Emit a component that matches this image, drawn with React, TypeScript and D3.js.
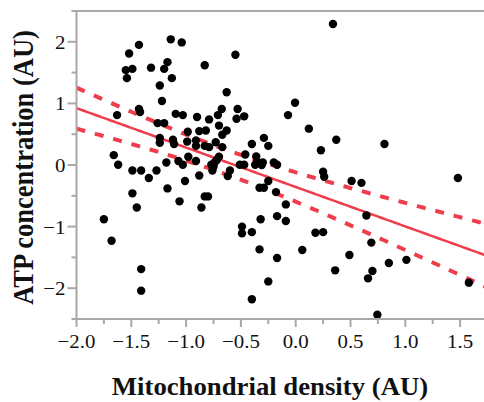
import React from "react";
import * as d3 from "d3";

// Mitochondrial density (x) and ATP concentration (y), AU
const mitoDensity = [
  0.34, -1.14, -1.04, -1.43, -1.52, -0.55, -1.17, -0.83, -1.32, -1.2,
  -1.49, -1.55, -1.54, -1.13, -1.24, -0.63, -1.22, -0.006, -1.43, -1.42,
  -0.675, -0.53, -1.63, -1.095, -1.03, -0.71, -0.9, -0.47, -0.07, -0.54,
  -0.79, -1.26, -1.2, -0.7, 0.12, -0.63, -0.88, -0.82, -0.985, -0.67,
  -0.29, -1.24, 0.37, -1.12, -1.24, -0.99, -0.73, 0.81, -0.4, -1.11,
  -0.25, -0.91, -0.83, -0.79, -0.67, 0.23, -1.66, -0.46, -0.36, -0.98,
  -0.7, -1.07, -0.91, -0.74, -0.3, -0.2, -1.18, -1.62, -1.03, -0.77,
  -0.51, -0.47, -0.37, -0.17, -0.76, -0.6, -1.49, -1.41, -1.27, 0.25,
  1.48, -0.62, -0.88, -1.34, 0.26, -1.01, -0.25, 0.51, 0.6, -0.33,
  -0.29, -1.17, -1.49, -0.18, -0.83, -0.8, -1.06, -0.09, -1.45, -0.86,
  0.645, -0.17, -1.75, -0.32, -0.09, -0.49, -0.49, -0.4, 0.18, 0.25,
  -1.68, 0.69, -0.33, 0.06, 0.49, -0.17, 1.01, 0.85, -1.41, 0.36,
  0.7, 0.66, -0.25, 1.58, -1.41, -0.4, 0.745, -0.91, -0.35, -0.31,
  -0.75, -0.72,
];
const atpConcentration = [
  2.29, 2.04, 1.99, 1.95, 1.81, 1.79, 1.67, 1.62, 1.58, 1.56,
  1.56, 1.54, 1.41, 1.41, 1.29, 1.18, 1.04, 1.01, 0.91, 0.86,
  0.91, 0.91, 0.81, 0.83, 0.81, 0.81, 0.78, 0.79, 0.81, 0.75,
  0.74, 0.68, 0.68, 0.64, 0.59, 0.56, 0.55, 0.56, 0.54, 0.49,
  0.44, 0.44, 0.41, 0.41, 0.36, 0.38, 0.37, 0.34, 0.34, 0.34,
  0.31, 0.31, 0.31, 0.29, 0.29, 0.24, 0.16, 0.17, 0.14, 0.135,
  0.135, 0.065, 0.065, 0.04, 0.04, 0.04, 0.04, 0.005, 0.005, 0.005,
  0.005, 0.005, 0.005, 0.005, -0.09, -0.09, -0.09, -0.09, -0.09, -0.11,
  -0.21, -0.18, -0.17, -0.21, -0.19, -0.26, -0.26, -0.26, -0.29, -0.37,
  -0.37, -0.38, -0.46, -0.44, -0.51, -0.51, -0.59, -0.64, -0.69, -0.69,
  -0.82, -0.83, -0.88, -0.88, -0.91, -1.0, -1.11, -1.09, -1.1, -1.09,
  -1.23, -1.26, -1.37, -1.38, -1.46, -1.51, -1.54, -1.59, -1.69, -1.71,
  -1.72, -1.84, -1.89, -1.91, -2.04, -2.18, -2.43, 0.4, 0.05, 0.0,
  -0.03, 0.08,
];

const xTickValues = [-2.0, -1.5, -1.0, -0.5, 0.0, 0.5, 1.0, 1.5];
const xMinorTickValues = [-1.75, -1.25, -0.75, -0.25, 0.25, 0.75, 1.25];
const yTickValues = [-2, -1, 0, 1, 2];
const yMinorTickValues = [-2.5, -1.5, -0.5, 0.5, 1.5, 2.5];

// Linear fit and 95% confidence band of the mean
const fitIntercept = -0.357;
const fitSlope = -0.64;
const bandMinHalfWidth = 0.2;
const bandGrowth = 0.1975;
const bandCenterX = -0.65;

const xTitle = "Mitochondrial density (AU)";
const yTitle = "ATP concentration (AU)";

export default function App() {
  const W = 484;
  const H = 402;
  const left = 76.5;
  const top = 11;
  const bottom = 319;
  const x = d3.scaleLinear().domain([-2, 1.8]).range([left, left + 3.8 * 109.6]);
  const y = d3.scaleLinear().domain([-2.5, 2.5]).range([bottom, top]);

  const grid = d3.range(-2, 1.8001, 0.02);
  const fit = (v: number) => fitIntercept + fitSlope * v;
  const hw = (v: number) =>
    Math.sqrt(bandMinHalfWidth ** 2 + bandGrowth ** 2 * (v - bandCenterX) ** 2);
  const line = d3
    .line<[number, number]>()
    .x((d) => x(d[0]))
    .y((d) => y(d[1]));
  const fitPath = line(grid.map((v) => [v, fit(v)]));
  const upPath = line(grid.map((v) => [v, fit(v) + hw(v)]));
  const loPath = line(grid.map((v) => [v, fit(v) - hw(v)]));

  const axisColor = "#a8a8a8";
  const red = "#ef3d4b";
  const font = "'Liberation Serif', 'Times New Roman', serif";

  return (
    <svg
      width={W}
      height={H}
      style={{ position: "fixed", left: 0, top: 0, background: "#fff" }}
      fontFamily={font}
    >
      <defs>
        <clipPath id="plotClip">
          <rect x={left} y={top} width={W - left} height={bottom - top} />
        </clipPath>
      </defs>
      <rect x={0} y={0} width={W} height={H} fill="#fff" />
      <g clipPath="url(#plotClip)">
        <path d={upPath || ""} fill="none" stroke={red} strokeWidth={4} strokeDasharray="9,10" />
        <path d={loPath || ""} fill="none" stroke={red} strokeWidth={4} strokeDasharray="9,10" />
        <path d={fitPath || ""} fill="none" stroke={red} strokeWidth={2.5} />
        {mitoDensity.map((v, i) => (
          <circle key={i} cx={x(v)} cy={y(atpConcentration[i])} r={4.2} fill="#000" />
        ))}
      </g>
      {/* axes */}
      <line x1={left} x2={W} y1={top} y2={top} stroke={axisColor} strokeWidth={2} />
      <line x1={left} x2={W} y1={bottom} y2={bottom} stroke={axisColor} strokeWidth={2} />
      <line x1={left} x2={left} y1={top - 1} y2={bottom + 1} stroke={axisColor} strokeWidth={2} />
      {xTickValues.map((t) => (
        <g key={"xt" + t}>
          <line x1={x(t)} x2={x(t)} y1={bottom} y2={bottom + 8} stroke={axisColor} strokeWidth={2} />
          <text
            transform={`translate(${x(t)},${bottom + 29}) scale(1.1,1)`}
            textAnchor="middle"
            fontSize={19}
            fill="#111"
          >
            {d3.format(".1f")(t)}
          </text>
        </g>
      ))}
      {xMinorTickValues.map((t) => (
        <line key={"xm" + t} x1={x(t)} x2={x(t)} y1={bottom} y2={bottom + 5} stroke={axisColor} strokeWidth={2} />
      ))}
      {yTickValues.map((t) => (
        <g key={"yt" + t}>
          <line x1={left - 9} x2={left} y1={y(t)} y2={y(t)} stroke={axisColor} strokeWidth={2} />
          <text
            transform={`translate(${left - 11},${y(t) + 7}) scale(1.1,1)`}
            textAnchor="end"
            fontSize={19}
            fill="#111"
          >
            {d3.format("d")(t)}
          </text>
        </g>
      ))}
      {yMinorTickValues.map((t) => (
        <line key={"ym" + t} x1={left - 5} x2={left} y1={y(t)} y2={y(t)} stroke={axisColor} strokeWidth={2} />
      ))}
      <text
        transform={`translate(270,395) scale(1.07,1)`}
        textAnchor="middle"
        fontSize={25}
        fontWeight="bold"
        fill="#111"
      >
        {xTitle}
      </text>
      <text
        transform={`translate(33,167.5) scale(1.08,1) rotate(-90)`}
        textAnchor="middle"
        fontSize={26.5}
        fontWeight="bold"
        fill="#111"
      >
        {yTitle}
      </text>
    </svg>
  );
}
